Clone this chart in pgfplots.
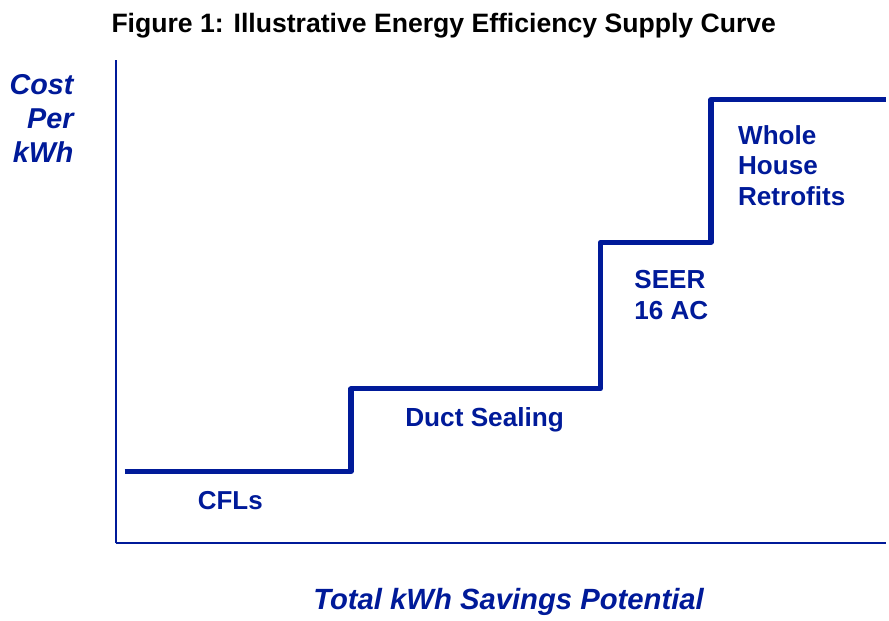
\documentclass[border=0pt]{standalone}
\usepackage{pgfplots}
\pgfplotsset{compat=1.18}
\usepackage{fontspec}
\setmainfont{Liberation Sans}
\definecolor{eeblue}{RGB}{0,26,153}
\begin{document}
\begin{tikzpicture}[x=0.75pt,y=0.75pt]
\begin{axis}[
  scale only axis,
  width=579.75pt, height=363.75pt,
  xmin=116, xmax=889, ymin=70, ymax=555,
  axis x line=bottom, axis y line=left,
  axis line style={draw=eeblue, line width=1.5pt, -},
  ticks=none,
  clip=false,
  at={(116*0.75pt,70*0.75pt)}, anchor=origin,
]
\addplot[eeblue, line width=3.8pt, line join=round, line cap=butt] coordinates {
  (125,142) (352,142) (352,225) (602,225) (602,372) (713,372) (713,515) (889,515)
};
\path (axis cs:0,0) rectangle (axis cs:889,615);
\node[font=\fontsize{20}{24}\selectfont\bfseries, text=black] at (axis cs:445,589) {Figure 1: Illustrative Energy Efficiency Supply Curve};
\node[font=\fontsize{21.6}{25.5}\selectfont\bfseries\itshape, text=eeblue, align=right, anchor=east, inner sep=0pt] at (axis cs:74,496) {Cost\\Per\\kWh};
\node[font=\fontsize{22}{26}\selectfont\bfseries\itshape, text=eeblue] at (axis cs:510,11) {Total kWh Savings Potential};
\node[font=\fontsize{19.5}{23}\selectfont\bfseries, text=eeblue] at (axis cs:231,113) {CFLs};
\node[font=\fontsize{19.7}{23}\selectfont\bfseries, text=eeblue] at (axis cs:486,194) {Duct Sealing};
\node[font=\fontsize{19.6}{23}\selectfont\bfseries, text=eeblue, align=left, anchor=west, inner sep=0pt] at (axis cs:636,319) {SEER\\16 AC};
\node[font=\fontsize{19.6}{23}\selectfont\bfseries, text=eeblue, align=left, anchor=west, inner sep=0pt] at (axis cs:740,449) {Whole\\House\\Retrofits};
\end{axis}
\end{tikzpicture}
\end{document}
